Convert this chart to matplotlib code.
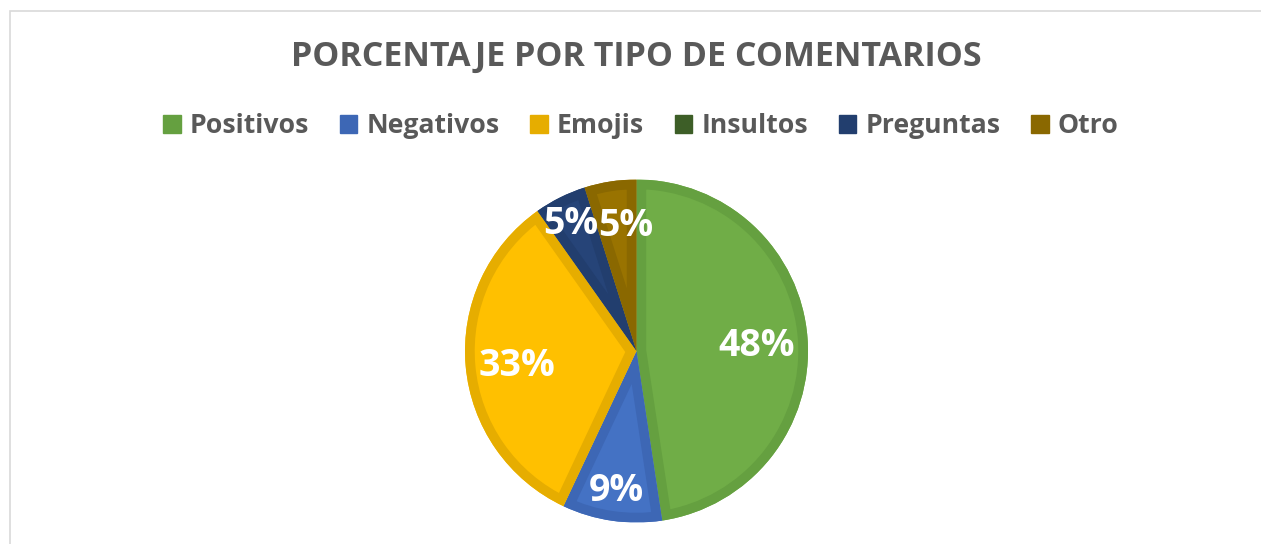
import matplotlib
matplotlib.use("Agg")
import matplotlib.pyplot as plt
from matplotlib.patches import Patch, Rectangle, PathPatch
import numpy as np

categories = ["Positivos", "Negativos", "Emojis", "Insultos", "Preguntas", "Otro"]
values = [47.6, 9.4, 33.2, 0, 4.9, 4.9]
fill_colors = ["#70AD47", "#4472C4", "#FFC000", "#43682B", "#264478", "#997300"]
edge_colors = ["#65A040", "#3D67B5", "#E6AD00", "#3D5E27", "#223E6E", "#8A6800"]
title = "PORCENTAJE POR TIPO DE COMENTARIOS"

W, H = 1261, 544
fig = plt.figure(figsize=(W / 100, H / 100), dpi=100)
fig.patch.set_facecolor("white")

# chart frame
fig.patches.append(Rectangle((10 / W, -0.1), 1.2, (H - 11) / H + 0.1,
                             transform=fig.transFigure, fill=False,
                             edgecolor="#D9D9D9", linewidth=1.2))

cx, cy, r = 636.5, 351, 171.5
ax = fig.add_axes([(cx - r) / W, (H - cy - r) / H, 2 * r / W, 2 * r / H])

wedges, _ = ax.pie(values, colors=fill_colors, startangle=90, counterclock=False,
                   radius=1.0, center=(0, 0), frame=False,
                   wedgeprops={"linewidth": 0})
ax.set_xlim(-1, 1)
ax.set_ylim(-1, 1)
ax.axis("off")

# inner darker border of each slice: stroke clipped to the slice itself
for w, ec, v in zip(wedges, edge_colors, values):
    if v == 0:
        continue
    path = w.get_path()
    border = PathPatch(path, transform=ax.transData, facecolor="none",
                       edgecolor=ec, linewidth=14, joinstyle="miter")
    ax.add_patch(border)
    border.set_clip_path(path, ax.transData)

label_dist = [0.70, 0.80, 0.70, 0.0, 0.855, 0.755]
label_dang = [0, 0, 0, 0, 0, -4]
total = sum(values)
for w, v, d, da in zip(wedges, values, label_dist, label_dang):
    if v == 0:
        continue
    ang = np.deg2rad((w.theta1 + w.theta2) / 2 + da)
    ax.text(d * np.cos(ang), d * np.sin(ang) - 0.025, f"{round(100 * v / total)}%",
            ha="center", va="center", color="white", fontsize=27,
            fontweight="bold", family="Open Sans")

fig.text(cx / W, 1 - 57 / H, title, ha="center", va="center", color="#595959",
         fontsize=24.5, fontweight="bold", family="Open Sans")

handles = [Patch(facecolor=c, edgecolor=c) for c in edge_colors]
fig.legend(handles, categories, loc="center", bbox_to_anchor=(641 / W, 1 - 126 / H),
           ncol=6, frameon=False, handlelength=0.65, handleheight=0.65,
           handletextpad=0.35, columnspacing=1.15,
           prop={"family": "Open Sans", "weight": "bold", "size": 19.2},
           labelcolor="#595959")

fig.savefig("out.png", dpi=100, facecolor="white")
